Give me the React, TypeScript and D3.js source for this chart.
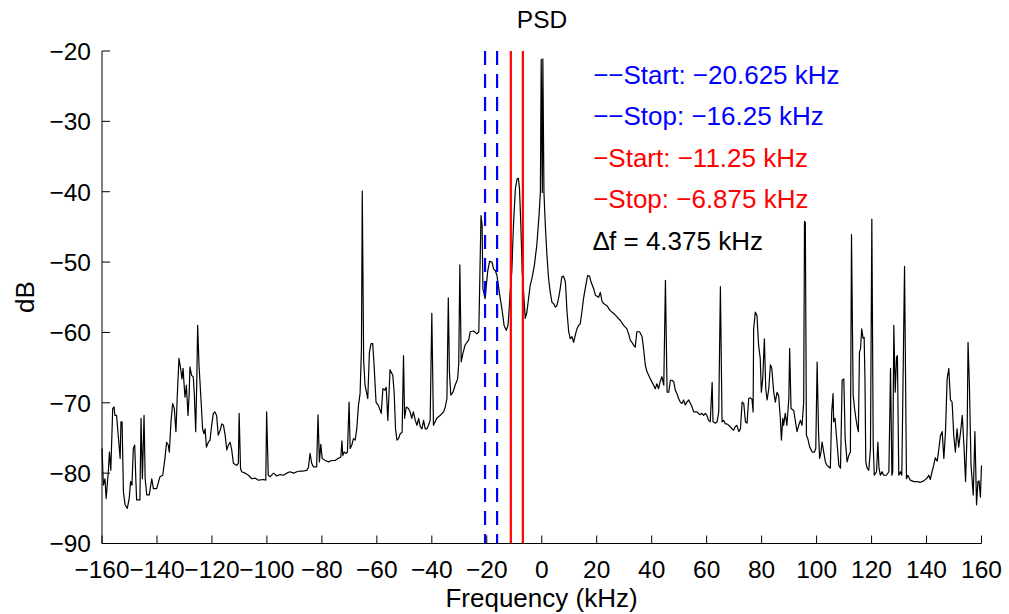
import React from "react";
import * as d3 from "d3";

// PSD trace (frequency in kHz, level in dB)
const freqKHz: number[] = [
  -160.0, -159.5, -158.9, -158.5, -157.7, -157.3, -156.8, -156.1, -155.6, -155.3,
  -154.7, -154.1, -153.4, -153.1, -152.7, -152.2, -151.6, -150.8, -150.1, -149.6,
  -149.1, -148.6, -148.1, -147.7, -147.4, -146.2, -145.8, -145.3, -144.7, -144.3,
  -143.7, -142.8, -141.9, -141.3, -140.1, -138.9, -137.9, -137.1, -136.5, -135.9,
  -135.5, -134.9, -134.3, -133.7, -133.1, -132.6, -132.0, -131.4, -130.9, -130.5,
  -130.2, -129.8, -129.3, -128.7, -128.3, -128.0, -127.4, -126.8, -126.4, -125.9,
  -125.5, -125.2, -124.7, -124.0, -123.4, -122.9, -122.5, -122.0, -121.3, -120.7,
  -120.1, -119.5, -118.9, -118.3, -117.7, -117.0, -116.4, -115.8, -115.2, -114.6,
  -114.0, -113.4, -112.8, -112.2, -111.0, -110.4, -110.1, -109.6, -109.2, -107.9,
  -106.7, -105.5, -104.3, -103.1, -101.3, -100.4, -100.1, -99.5, -98.8, -97.6,
  -96.4, -95.2, -94.0, -92.8, -91.6, -90.3, -89.1, -87.9, -86.7, -85.5,
  -84.9, -84.3, -83.7, -83.1, -81.9, -81.4, -80.9, -80.4, -79.9, -78.8,
  -77.6, -76.4, -75.2, -74.0, -73.1, -72.7, -72.4, -71.9, -71.2, -70.7,
  -70.1, -69.7, -69.1, -68.5, -67.9, -67.3, -66.7, -66.1, -65.6, -65.3,
  -64.8, -64.3, -63.3, -62.7, -62.1, -61.5, -61.0, -60.3, -59.4, -58.4,
  -57.8, -57.1, -56.6, -56.0, -55.2, -54.2, -53.7, -53.2, -52.7, -52.1,
  -51.5, -50.8, -50.3, -49.9, -49.3, -48.5, -47.9, -47.3, -46.7, -46.0,
  -45.4, -44.8, -44.2, -43.6, -43.0, -42.4, -41.8, -41.2, -40.6, -40.0,
  -39.4, -38.8, -38.2, -37.0, -35.7, -35.1, -34.5, -34.0, -33.6, -33.1,
  -32.3, -31.5, -30.6, -30.2, -29.8, -29.3, -28.7, -27.9, -27.2, -26.6,
  -26.0, -24.8, -23.6, -22.9, -22.1, -21.7, -21.4, -20.6, -19.7, -19.0,
  -18.1, -17.5, -16.9, -16.3, -15.7, -15.1, -14.5, -13.7, -12.9, -12.3,
  -12.0, -11.5, -10.9, -10.3, -9.6, -9.0, -8.5, -8.1, -7.6, -7.1,
  -6.6, -6.0, -5.4, -4.8, -4.2, -3.6, -2.7, -1.8, -1.0, -0.5,
  -0.2, 0.2, 0.4, 0.8, 1.3, 1.9, 2.5, 3.1, 3.7, 4.3,
  4.9, 5.5, 6.1, 6.7, 7.3, 7.9, 8.6, 9.2, 9.8, 10.4,
  11.0, 11.6, 12.2, 12.8, 13.4, 14.0, 14.6, 15.2, 15.8, 16.7,
  17.4, 17.9, 18.9, 19.5, 20.7, 21.3, 21.9, 22.5, 23.7, 24.9,
  26.2, 27.4, 28.6, 29.8, 31.0, 31.6, 32.2, 32.8, 33.4, 34.0,
  34.6, 35.6, 36.5, 37.1, 37.7, 38.3, 39.5, 40.7, 41.3, 41.9,
  42.5, 43.1, 43.7, 44.4, 45.0, 45.6, 46.2, 46.8, 47.4, 48.0,
  48.6, 49.2, 49.8, 50.4, 51.0, 51.6, 52.2, 52.8, 53.5, 54.1,
  54.7, 55.3, 56.5, 57.5, 58.3, 58.9, 59.5, 60.1, 60.7, 61.3,
  62.0, 62.3, 63.2, 63.8, 64.4, 65.0, 65.6, 66.2, 66.8, 67.4,
  68.0, 68.6, 69.2, 69.8, 70.4, 71.0, 71.7, 72.3, 72.9, 73.5,
  74.1, 74.7, 75.3, 75.9, 76.5, 76.9, 77.1, 77.7, 78.3, 78.9,
  79.5, 79.9, 80.4, 81.0, 81.5, 82.0, 82.6, 83.2, 83.7, 84.4,
  85.0, 85.6, 86.2, 86.8, 87.2, 87.7, 88.0, 88.6, 89.2, 89.9,
  90.2, 90.7, 91.7, 92.3, 92.9, 93.5, 94.1, 94.7, 95.3, 95.6,
  95.9, 96.3, 96.8, 97.5, 98.4, 99.2, 99.7, 100.2, 100.7, 101.1,
  101.6, 102.0, 102.6, 103.2, 103.8, 104.4, 105.0, 105.5, 106.0, 106.2,
  106.7, 107.5, 108.1, 108.7, 109.3, 109.9, 110.4, 111.1, 111.7, 112.3,
  112.7, 113.3, 113.8, 114.3, 114.7, 115.2, 115.6, 116.0, 116.4, 116.9,
  117.3, 117.6, 117.9, 118.4, 119.0, 119.6, 120.1, 120.6, 121.0, 121.8,
  122.3, 122.7, 123.2, 123.8, 124.4, 125.4, 126.3, 126.9, 127.4, 127.7,
  128.1, 128.6, 129.1, 129.4, 129.9, 130.5, 131.0, 132.0, 132.7, 133.2,
  134.1, 135.4, 136.6, 137.8, 139.0, 140.2, 140.8, 141.4, 142.0, 142.6,
  143.2, 143.9, 144.5, 145.1, 145.7, 146.3, 146.9, 147.5, 148.1, 148.7,
  149.3, 149.9, 150.5, 151.1, 151.7, 152.4, 153.0, 153.6, 154.2, 154.8,
  155.1, 155.6, 156.2, 157.0, 157.6, 158.2, 158.7, 159.1, 159.6, 160.0,
];

const psdDB: number[] = [
  -76.5, -81.7, -80.8, -83.6, -79.8, -77.0, -79.6, -70.8, -70.6, -71.8,
  -71.8, -74.6, -77.9, -72.7, -72.7, -82.7, -84.5, -85.0, -83.6, -81.2,
  -81.7, -76.5, -76.0, -80.8, -83.8, -83.8, -72.2, -80.8, -71.8, -80.8,
  -83.1, -83.1, -80.8, -82.2, -82.2, -80.5, -80.3, -77.9, -75.6, -76.0,
  -77.0, -72.7, -70.1, -70.8, -74.1, -68.9, -63.7, -65.1, -66.6, -65.1,
  -67.0, -69.2, -67.5, -71.8, -68.9, -64.9, -66.1, -66.3, -68.9, -74.1,
  -66.6, -59.0, -64.7, -69.4, -73.7, -74.4, -73.7, -76.3, -75.6, -75.3,
  -73.2, -71.5, -71.3, -71.8, -74.6, -73.9, -73.0, -73.2, -74.6, -76.7,
  -76.0, -75.6, -76.7, -78.6, -78.9, -78.6, -71.5, -79.3, -79.8, -80.0,
  -80.3, -80.8, -80.7, -81.0, -80.9, -81.0, -71.3, -80.3, -80.5, -80.0,
  -80.4, -80.2, -80.3, -80.0, -79.8, -80.0, -79.8, -79.7, -79.7, -79.6,
  -79.2, -77.2, -78.6, -79.1, -79.1, -71.7, -78.4, -75.9, -77.9, -78.2,
  -78.4, -78.2, -78.2, -77.9, -77.7, -75.4, -77.5, -77.0, -77.2, -77.0,
  -69.9, -76.5, -76.0, -75.1, -75.3, -73.7, -70.4, -68.7, -62.3, -39.9,
  -64.0, -67.5, -69.4, -62.8, -61.6, -61.6, -64.7, -69.9, -70.4, -71.5,
  -68.0, -68.2, -67.8, -72.5, -65.3, -66.1, -68.5, -73.7, -75.3, -75.1,
  -74.4, -74.2, -63.3, -72.2, -70.6, -70.8, -71.3, -72.2, -71.3, -72.5,
  -73.2, -72.2, -73.4, -73.7, -72.5, -73.7, -73.7, -73.2, -72.5, -57.3,
  -73.2, -72.7, -72.2, -71.8, -71.3, -70.6, -69.4, -55.1, -65.6, -68.9,
  -68.5, -67.5, -66.6, -64.4, -50.4, -64.2, -63.0, -61.8, -61.4, -61.1,
  -59.9, -59.8, -60.2, -59.9, -43.4, -44.8, -53.8, -55.2, -51.4, -49.9,
  -50.0, -51.0, -51.2, -51.9, -53.6, -55.2, -56.6, -59.0, -59.7, -59.0,
  -57.6, -54.3, -51.4, -44.8, -39.6, -38.2, -38.1, -39.6, -44.8, -51.4,
  -54.3, -58.0, -57.1, -55.2, -53.3, -52.4, -50.5, -47.6, -43.4, -40.1,
  -21.2, -40.1, -21.1, -40.1, -44.8, -49.1, -52.4, -54.3, -55.7, -55.9,
  -56.4, -56.2, -55.2, -53.8, -52.1, -52.0, -52.8, -57.1, -59.9, -60.9,
  -60.6, -61.4, -60.4, -59.5, -59.0, -58.8, -57.1, -55.2, -53.8, -51.9,
  -52.0, -52.8, -53.8, -54.7, -55.0, -54.3, -55.5, -55.9, -56.2, -56.9,
  -57.3, -57.8, -58.3, -59.0, -59.5, -60.2, -61.1, -61.4, -61.8, -62.1,
  -59.9, -59.9, -60.6, -62.5, -64.7, -65.6, -66.6, -67.5, -68.0, -67.3,
  -68.0, -67.0, -66.3, -67.5, -52.6, -68.5, -68.5, -66.8, -66.8, -67.0,
  -68.2, -68.7, -69.4, -69.9, -70.1, -69.6, -70.3, -69.9, -69.6, -70.1,
  -70.6, -71.3, -71.3, -71.7, -71.5, -71.8, -71.5, -71.8, -72.5, -72.7,
  -67.1, -72.7, -72.9, -72.7, -71.3, -53.5, -72.7, -72.5, -73.0, -73.0,
  -73.2, -73.4, -73.7, -73.9, -73.4, -73.2, -74.1, -73.7, -69.9, -70.1,
  -72.7, -72.9, -69.4, -69.3, -69.5, -71.3, -59.5, -57.1, -57.6, -61.8,
  -63.7, -68.5, -66.6, -60.9, -68.0, -69.6, -68.0, -64.6, -65.1, -68.5,
  -69.9, -68.5, -69.0, -72.2, -75.3, -72.2, -73.2, -71.5, -73.2, -69.4,
  -62.3, -70.8, -71.1, -72.7, -74.1, -73.2, -72.5, -73.2, -70.0, -44.2,
  -44.4, -74.6, -75.1, -76.3, -77.0, -77.0, -76.5, -64.2, -74.1, -77.9,
  -77.0, -75.6, -77.0, -78.4, -78.9, -79.1, -79.3, -71.3, -68.7, -72.7,
  -72.2, -76.0, -78.9, -79.3, -66.8, -66.6, -75.1, -78.4, -77.5, -77.0,
  -46.1, -68.9, -70.8, -72.2, -73.2, -74.1, -62.8, -62.3, -59.5, -60.8,
  -60.7, -66.6, -78.4, -79.3, -79.6, -76.5, -43.9, -76.0, -80.3, -79.8,
  -75.6, -79.3, -80.3, -79.8, -80.3, -80.3, -79.8, -65.1, -80.3, -79.8,
  -59.0, -68.5, -63.5, -63.3, -80.3, -79.8, -80.3, -50.6, -80.8, -80.3,
  -81.0, -81.2, -81.2, -81.3, -81.1, -80.7, -80.3, -80.9, -79.8, -78.9,
  -77.8, -78.3, -76.5, -74.6, -74.1, -77.9, -74.1, -66.6, -65.1, -69.6,
  -69.9, -74.6, -77.0, -73.7, -76.3, -74.1, -71.8, -76.0, -81.2, -73.7,
  -61.4, -67.5, -78.9, -83.1, -74.1, -84.5, -81.2, -81.1, -83.4, -78.9,
];

const xTicks: number[] = [-160, -140, -120, -100, -80, -60, -40, -20, 0, 20, 40, 60, 80, 100, 120, 140, 160];
const yTicks: number[] = [-90, -80, -70, -60, -50, -40, -30, -20];

const blueMarkers: number[] = [-20.625, -16.25];
const redMarkers: number[] = [-11.25, -6.875];

const noteLabels: string[] = [
  "\u2212\u2212Start: \u221220.625 kHz",
  "\u2212\u2212Stop: \u221216.25 kHz",
  "\u2212Start: \u221211.25 kHz",
  "\u2212Stop: \u22126.875 kHz",
  "\u2206f = 4.375 kHz",
];
const noteColors: string[] = ["#0000ff", "#0000ff", "#ff0000", "#ff0000", "#000000"];
const noteY: number[] = [-23.4, -29.2, -35.1, -41.0, -47.0];
const noteX = 18.7;

const W = 1009;
const H = 614;
const FONT = "'Liberation Sans', Arial, Helvetica, sans-serif";

const fmt = (v: number) => (v < 0 ? "\u2212" + Math.abs(v) : String(v));

export default function App() {
  const x = d3.scaleLinear().domain([-160, 160]).range([102, 981.5]);
  const y = d3.scaleLinear().domain([-90, -20]).range([543.5, 51]);

  const pts: [number, number][] = freqKHz.map((f, i) => [f, psdDB[i]]);
  const line = d3
    .line<[number, number]>()
    .x((d) => x(d[0]))
    .y((d) => y(d[1]));

  const x0 = x(-160);
  const y0 = y(-90);
  const yTop = y(-20);
  const tickLen = 8;

  return (
    <svg
      width={W}
      height={H}
      style={{ position: "absolute", left: 0, top: 0, background: "#fff" }}
      fontFamily={FONT}
    >
      <rect x={0} y={0} width={W} height={H} fill="#fff" />
      <path d={line(pts) || ""} fill="none" stroke="#000" strokeWidth={1.2} strokeLinejoin="round" />

      {blueMarkers.map((m) => (
        <line
          key={"b" + m}
          x1={x(m)}
          x2={x(m)}
          y1={yTop}
          y2={y0}
          stroke="#0000ff"
          strokeWidth={2.2}
          strokeDasharray="14,9"
        />
      ))}
      {redMarkers.map((m) => (
        <line key={"r" + m} x1={x(m)} x2={x(m)} y1={yTop} y2={y0} stroke="#ff0000" strokeWidth={2.2} />
      ))}

      {/* axes */}
      <line x1={x0} x2={x0} y1={yTop} y2={y0} stroke="#000" strokeWidth={1} />
      <line x1={x0} x2={x(160)} y1={y0} y2={y0} stroke="#000" strokeWidth={1} />
      {yTicks.map((t) => (
        <g key={"yt" + t}>
          <line x1={x0} x2={x0 + tickLen} y1={y(t)} y2={y(t)} stroke="#000" strokeWidth={1} />
          <text x={x0 - 11} y={y(t)} dy="0.36em" textAnchor="end" fontSize={24.5} fill="#000">
            {fmt(t)}
          </text>
        </g>
      ))}
      {xTicks.map((t) => (
        <g key={"xt" + t}>
          <line x1={x(t)} x2={x(t)} y1={y0} y2={y0 - tickLen} stroke="#000" strokeWidth={1} />
          <text x={x(t)} y={578} textAnchor="middle" fontSize={24.5} fill="#000">
            {fmt(t)}
          </text>
        </g>
      ))}

      <text x={541.5} y={607} textAnchor="middle" fontSize={26} fill="#000">
        Frequency (kHz)
      </text>
      <text transform="translate(34,297) rotate(-90)" textAnchor="middle" fontSize={26} fill="#000">
        dB
      </text>
      <text x={542} y={28} textAnchor="middle" fontSize={24.5} fill="#000">
        PSD
      </text>

      {noteLabels.map((s, i) => (
        <text key={"n" + i} x={x(noteX)} y={y(noteY[i])} dy="0.36em" fontSize={26} fill={noteColors[i]}>
          {s}
        </text>
      ))}
    </svg>
  );
}
